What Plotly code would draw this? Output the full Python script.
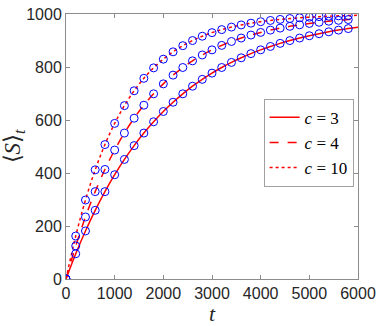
import plotly.graph_objects as go

# time grid: markers every 200 up to 5800, curves continue to 6000
t_values = [0, 200, 400, 600, 800, 1000, 1200, 1400, 1600, 1800, 2000,
            2200, 2400, 2600, 2800, 3000, 3200, 3400, 3600, 3800, 4000,
            4200, 4400, 4600, 4800, 5000, 5200, 5400, 5600, 5800, 6000]

s_c3 = [0, 95.2, 181.3, 259.2, 329.7, 393.5, 451.2, 503.4, 550.7, 593.4, 632.1,
        667.1, 698.8, 727.5, 753.4, 776.9, 798.1, 817.3, 834.7, 850.4, 864.7,
        877.5, 889.2, 899.7, 909.3, 917.9, 925.7, 932.8, 939.2, 945.0, 950.2]
s_c4 = [0, 124.8, 234.1, 329.7, 413.4, 486.6, 550.7, 606.8, 655.8, 698.8, 736.4,
        769.3, 798.1, 823.3, 845.4, 864.7, 881.6, 896.3, 909.3, 920.6, 930.5,
        939.2, 946.8, 953.4, 959.2, 964.3, 968.8, 972.7, 976.1, 979.1, 981.7]
s_c10 = [0, 162.2, 298.1, 412.0, 507.3, 587.2, 654.2, 710.3, 757.3, 796.7, 829.6,
         857.3, 880.4, 899.8, 916.1, 929.7, 941.1, 950.6, 958.7, 965.4, 971.0,
         975.7, 979.6, 982.9, 985.7, 988.0, 990.0, 991.6, 993.0, 994.1, 995.1]

series_labels = ["<i>c</i> = 3", "<i>c</i> = 4", "<i>c</i> = 10"]
series_values = [s_c3, s_c4, s_c10]
series_dashes = ["solid", "dash", "dot"]

figure = go.Figure()
for label, values, dash in zip(series_labels, series_values, series_dashes):
    figure.add_trace(
        go.Scatter(
            x=t_values,
            y=values,
            mode="lines",
            line={"color": "#ff0000", "width": 1.5, "dash": dash, "shape": "spline"},
            name=label,
        )
    )
for values in series_values:
    figure.add_trace(
        go.Scatter(
            x=t_values[:-1],
            y=values[:-1],
            mode="markers",
            marker={
                "symbol": "circle-open",
                "size": 8,
                "color": "#0000ff",
                "line": {"width": 1, "color": "#0000ff"},
            },
            showlegend=False,
            hoverinfo="skip",
        )
    )

axis_style = {
    "showline": True,
    "linecolor": "#8c8c8c",
    "linewidth": 1,
    "mirror": "ticks",
    "ticks": "inside",
    "ticklen": 4,
    "tickcolor": "#8c8c8c",
    "showgrid": False,
    "zeroline": False,
    "ticklabeloverflow": "allow",
    "tickfont": {"family": "Liberation Sans, Arial", "size": 16, "color": "#262626"},
}

figure.update_layout(
    width=382,
    height=326,
    margin={"l": 66, "r": 18, "t": 6, "b": 44},
    paper_bgcolor="white",
    plot_bgcolor="white",
    showlegend=True,
    legend={
        "x": 0.985,
        "y": 0.68,
        "xanchor": "right",
        "yanchor": "top",
        "bgcolor": "white",
        "bordercolor": "#a0a0a0",
        "borderwidth": 1,
        "font": {"family": "Liberation Serif, serif", "size": 17, "color": "#000000"},
        "itemwidth": 30,
        "tracegroupgap": 0,
    },
    xaxis={
        **axis_style,
        "range": [0, 6000],
        "tickvals": [0, 1000, 2000, 3000, 4000, 5000, 6000],
        "title": {
            "text": "<i>t</i>",
            "font": {"family": "Liberation Serif, serif", "size": 22, "color": "#262626"},
            "standoff": 2,
        },
    },
    yaxis={
        **axis_style,
        "range": [0, 1000],
        "tickvals": [0, 200, 400, 600, 800, 1000],
        "title": {
            "text": "\u27e8<i>S</i>\u27e9<sub><i>t</i></sub>",
            "font": {"family": "Liberation Serif, serif", "size": 23, "color": "#262626"},
            "standoff": 4,
        },
    },
)

figure.write_html(
    "out.html",
    config={"displayModeBar": False},
    post_script="document.body.style.margin='0';",
)
